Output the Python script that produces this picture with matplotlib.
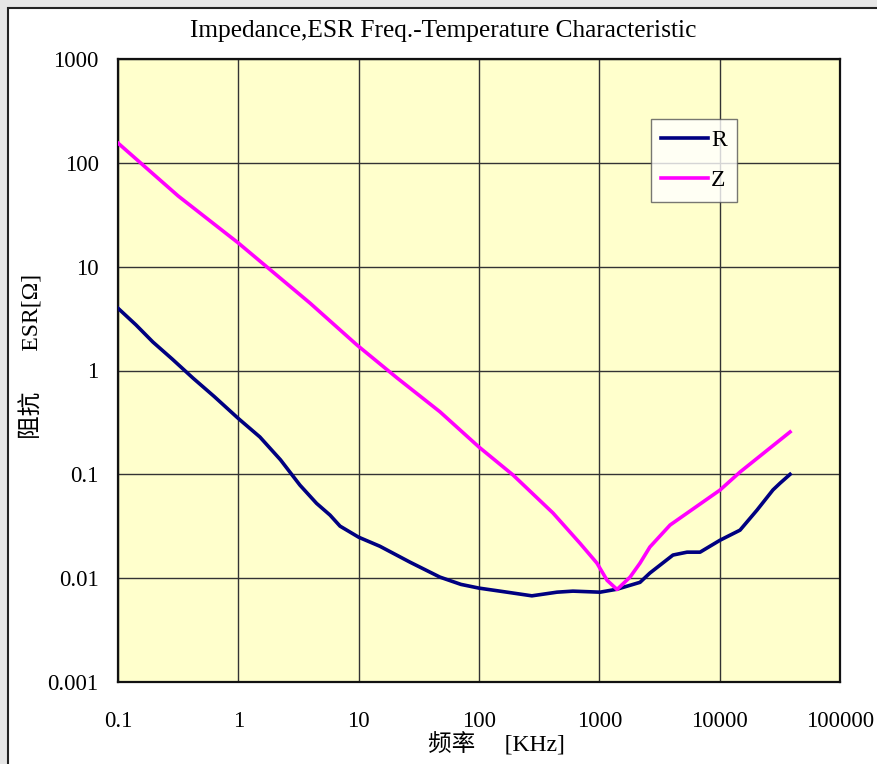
import numpy as np
import matplotlib
matplotlib.use('Agg')
import matplotlib.pyplot as plt
from matplotlib.patches import Rectangle

# frequency in kHz, ESR / impedance in ohm
r_freq = [0.1, 0.141, 0.195, 0.282, 0.42, 0.63, 1.0, 1.51, 2.24, 3.25, 4.47, 5.78, 7.0,
          10, 15, 26.7, 47.4, 70.8, 100, 171, 275, 445, 603, 1014, 1403, 2178, 2630,
          4093, 5358, 6871, 10070, 14760, 20420, 27730, 31770, 38460]
r_vals = [3.98, 2.75, 1.88, 1.29, 0.845, 0.562, 0.345, 0.229, 0.138, 0.0787, 0.0525,
          0.0405, 0.0317, 0.0248, 0.0203, 0.01426, 0.01023, 0.00871, 0.00802, 0.00733,
          0.00676, 0.00733, 0.0075, 0.00733, 0.00783, 0.00912, 0.0112, 0.0167, 0.0178,
          0.0178, 0.0232, 0.029, 0.0452, 0.0708, 0.0822, 0.1]

z_freq = [0.1, 0.316, 1.0, 3.94, 9.68, 20.8, 47.4, 100, 192, 412, 690, 955, 1159, 1403,
          1799, 2178, 2630, 3873, 10070, 14760, 38460]
z_vals = [155, 48, 16.9, 4.46, 1.76, 0.85, 0.40, 0.183, 0.0984, 0.0424, 0.0217,
          0.01396, 0.00955, 0.00778, 0.01023, 0.01396, 0.01995, 0.0325, 0.0706, 0.1052,
          0.256]

x_ticks = [0.1, 1, 10, 100, 1000, 10000, 100000]
x_labels = ['0.1', '1', '10', '100', '1000', '10000', '100000']
y_ticks = [0.001, 0.01, 0.1, 1, 10, 100, 1000]
y_labels = ['0.001', '0.01', '0.1', '1', '10', '100', '1000']

plt.rcParams['font.family'] = ['Liberation Serif', 'Noto Sans CJK SC']

W, H = 877, 764
fig = plt.figure(figsize=(W / 100, H / 100), dpi=100)
fig.patch.set_facecolor('#e6e6e6')
# white chart panel with a dark frame, kept behind the axes
fig.patches.append(Rectangle((8 / W, -0.1), 1.2, 1.1 - 8 / H, transform=fig.transFigure,
                             facecolor='white', edgecolor='#222222', linewidth=1.5,
                             zorder=-10))

ax = fig.add_axes([118 / W, 1 - 682 / H, (840 - 118) / W, (682 - 59) / H])
ax.set_zorder(5)
ax.set_facecolor('#ffffcc')
ax.set_xscale('log')
ax.set_yscale('log')
ax.set_xlim(0.1, 100000)
ax.set_ylim(0.001, 1000)

ax.plot(r_freq, r_vals, color='#000080', lw=2.6, label='R', zorder=3)
ax.plot(z_freq, z_vals, color='#ff00ff', lw=2.6, label='Z', zorder=3)

ax.set_xticks(x_ticks, x_labels)
ax.set_yticks(y_ticks, y_labels)
ax.minorticks_off()
ax.tick_params(axis='both', length=0, labelsize=16.5)
ax.tick_params(axis='x', pad=21)
ax.tick_params(axis='y', pad=14)
ax.grid(True, color='#333333', lw=1.0)
ax.set_axisbelow(True)
for s in ax.spines.values():
    s.set_color('#111111')
    s.set_linewidth(1.6)

leg = ax.legend(loc='upper left', bbox_to_anchor=(0.738, 0.904), fontsize=17,
                frameon=True, fancybox=False, edgecolor='#555555', handlelength=1.95,
                handletextpad=0.15, borderpad=0.45, labelspacing=0.8, borderaxespad=0)
leg.get_frame().set_linewidth(1.0)

fig.text(443 / W, 1 - 31 / H, 'Impedance,ESR Freq.-Temperature Characteristic',
         ha='center', va='center', fontsize=18.3)
fig.text(32 / W, 1 - 356 / H, '阻抗       ESR[Ω]', rotation=90, ha='center', va='center',
         fontsize=17)
fig.text(496 / W, 1 - 745 / H, '频率     [KHz]', ha='center', va='center', fontsize=17)

fig.savefig('out.png', dpi=100)
